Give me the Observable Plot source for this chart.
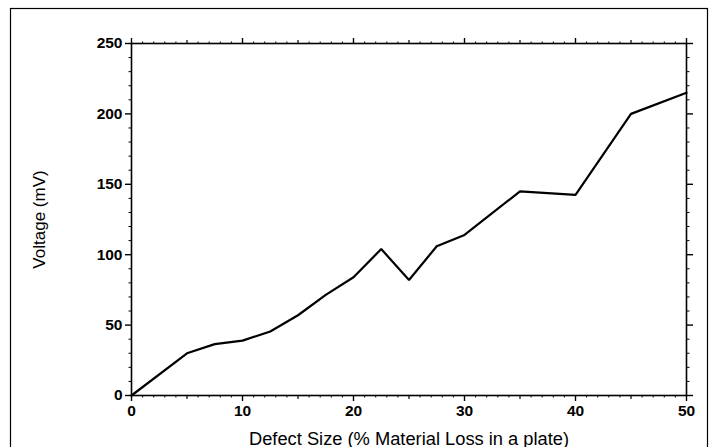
<!DOCTYPE html>
<html><head><meta charset="utf-8">
<script src="https://cdn.jsdelivr.net/npm/d3@7"></script>
<script src="https://cdn.jsdelivr.net/npm/@observablehq/plot@0.6"></script>
<style>
html,body{margin:0;padding:0;background:#fff;}
#chart{position:relative;width:713px;height:447px;overflow:hidden;}
#chart svg g[aria-label="x-axis tick label"] text,
#chart svg g[aria-label="y-axis tick label"] text{font-size:15.5px !important;font-weight:bold;}
</style></head><body><div id="chart"></div>
<script>
const defectSize = [0, 5, 7.5, 10, 12.5, 15, 17.5, 20, 22.5, 25, 27.5, 30, 35, 40, 45, 50];
const voltage = [0, 30, 36.5, 39, 45.5, 57, 71.5, 84, 104, 82, 106, 114, 145, 142.5, 200, 215];
const xTicks = [0, 10, 20, 30, 40, 50];
const xMidTicks = [5, 15, 25, 35, 45];
const yTicks = [0, 50, 100, 150, 200, 250];
const xLabel = "Defect Size (% Material Loss in a plate)";
const yLabel = "Voltage (mV)";

const xMinor = d3.range(0, 51, 1).filter(v => v % 5 !== 0);
const yMinor = d3.range(0, 251, 10).filter(v => v % 50 !== 0);
const data = defectSize.map((x, i) => ({x, y: voltage[i]}));
const blank = () => "";

const chart = Plot.plot({
  width: 713, height: 447,
  marginLeft: 131, marginRight: 27, marginTop: 43, marginBottom: 52,
  style: {fontFamily: "'Liberation Sans', Arial, sans-serif", fontSize: "13px", color: "#000", background: "#fff"},
  x: {domain: [0, 50]},
  y: {domain: [0, 250]},
  marks: [
    Plot.frame({stroke: "#000", strokeWidth: 1.6}),
    // bottom
    Plot.axisX({ticks: xTicks, anchor: "bottom", tickSize: 6, tickPadding: 3, label: null, strokeWidth: 1.4}),
    Plot.axisX({ticks: xMidTicks, anchor: "bottom", tickSize: 4, tickFormat: blank, label: null, strokeWidth: 1.2}),
    Plot.axisX({ticks: xMinor, anchor: "bottom", tickSize: 2.5, tickFormat: blank, label: null, strokeWidth: 1}),
    // top
    Plot.axisX({ticks: xTicks, anchor: "top", tickSize: 6, tickFormat: blank, label: null, strokeWidth: 1.4}),
    Plot.axisX({ticks: xMidTicks, anchor: "top", tickSize: 4, tickFormat: blank, label: null, strokeWidth: 1.2}),
    Plot.axisX({ticks: xMinor, anchor: "top", tickSize: 2.5, tickFormat: blank, label: null, strokeWidth: 1}),
    // left
    Plot.axisY({ticks: yTicks, anchor: "left", tickSize: 6, tickPadding: 3, label: null, strokeWidth: 1.4}),
    Plot.axisY({ticks: yMinor, anchor: "left", tickSize: 2.5, tickFormat: blank, label: null, strokeWidth: 1}),
    // right
    Plot.axisY({ticks: yTicks, anchor: "right", tickSize: 6, tickFormat: blank, label: null, strokeWidth: 1.4}),
    Plot.axisY({ticks: yMinor, anchor: "right", tickSize: 2.5, tickFormat: blank, label: null, strokeWidth: 1}),
    Plot.line(data, {x: "x", y: "y", stroke: "#000", strokeWidth: 2.2, strokeLinejoin: "miter"}),
    Plot.text([xLabel], {frameAnchor: "bottom", dy: 49, textAnchor: "middle", lineAnchor: "bottom", fontSize: 18.3, fill: "#000"}),
    Plot.text([yLabel], {frameAnchor: "left", dx: -92, rotate: -90, textAnchor: "middle", lineAnchor: "middle", fontSize: 17, fill: "#000"})
  ]
});

d3.select(chart).append("rect")
  .attr("x", 10.5).attr("y", 8.5).attr("width", 697).attr("height", 460)
  .attr("fill", "none").attr("stroke", "#000").attr("stroke-width", 1.2);

document.getElementById("chart").appendChild(chart);
</script></body></html>
